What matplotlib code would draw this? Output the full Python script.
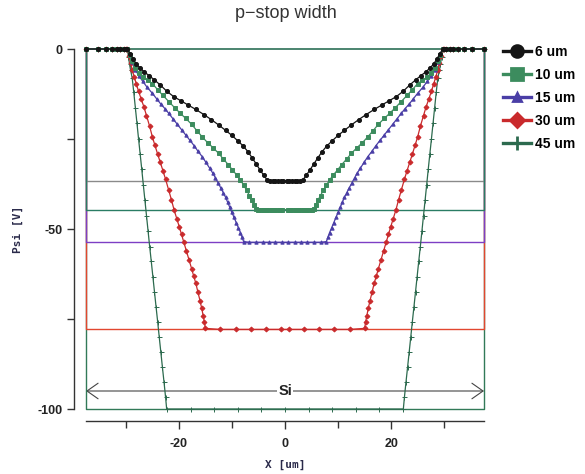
import matplotlib
matplotlib.use("Agg")
import matplotlib.pyplot as plt
from matplotlib.lines import Line2D

plt.rcParams["axes.unicode_minus"] = False
plt.rcParams["font.family"] = ["Liberation Sans", "DejaVu Sans"]

# outer mesh points on the flat Psi = 0 part (left side, shared by all runs)
edge_x = [-37.5, -35.3, -33.7, -32.6, -31.7, -31.0, -30.4, -30.0]
edge_y = [0, 0, 0, 0, 0, 0, 0, 0]

# left half of each cutline, x [um] and Psi [V]; structure is symmetric about x = 0
x_6 = [-29.7, -29.2, -28.6, -28.0, -27.3, -26.5, -25.6, -24.6, -23.5, -22.3, -21.0,
       -19.6, -18.2, -16.8, -15.3, -13.9, -12.5, -11.2, -10.0, -8.9, -7.9, -7.0,
       -6.2, -5.4, -4.7, -4.0, -3.3, -2.8, -2.3, -1.8, -1.3, -0.8, -0.3]
psi_6 = [0, -1.3, -2.8, -4.2, -5.3, -6.4, -7.4, -8.6, -10.0, -11.7, -13.2,
         -14.4, -15.6, -16.8, -18.2, -19.6, -21.1, -22.6, -24.0, -25.5, -26.9, -28.5,
         -30.2, -32.0, -33.6, -35.1, -36.5, -36.7, -36.7, -36.7, -36.7, -36.7, -36.7]

x_10 = [-29.7, -29.3, -28.8, -28.2, -27.5, -26.7, -25.9, -25.0, -24.0, -23.0, -21.9,
        -20.8, -19.7, -18.7, -17.6, -16.6, -15.6, -14.6, -13.5, -12.5, -11.6, -10.7,
        -9.9, -9.1, -8.4, -7.8, -7.2, -6.7, -6.2, -5.8, -5.5, -5.0, -4.5, -4.0, -3.5,
        -3.0, -2.5, -2.0, -1.5, -1.0, -0.5]
psi_10 = [0, -1.8, -3.4, -5.2, -6.8, -7.9, -8.7, -9.6, -11.3, -12.9, -14.6,
          -16.3, -17.9, -19.3, -20.9, -22.7, -24.4, -26.0, -27.5, -29.0, -30.6, -32.1,
          -33.6, -35.0, -36.4, -37.8, -39.3, -40.7, -42.0, -43.3, -44.5, -44.6, -44.6,
          -44.6, -44.6, -44.6, -44.6, -44.6, -44.6, -44.6, -44.6]

x_15 = [-29.7, -29.3, -28.8, -28.2, -27.5, -26.8, -26.0, -25.0, -24.2, -23.4, -22.6,
        -21.9, -21.1, -20.3, -19.5, -18.7, -17.9, -17.1, -16.4, -15.6, -14.9, -14.2,
        -13.6, -13.1, -12.6, -12.1, -11.6, -11.2, -10.8, -10.4, -10.0, -9.6, -9.2,
        -8.8, -8.4, -8.1, -7.8, -6.7, -5.5, -4.2, -3.0, -1.8, -0.6]
psi_15 = [0, -1.7, -3.6, -5.8, -7.5, -9.0, -10.6, -12.3, -13.8, -15.3, -16.6,
          -17.9, -19.4, -20.9, -22.4, -23.9, -25.4, -26.9, -28.4, -29.9, -31.5, -33.1,
          -34.5, -35.8, -37.2, -38.6, -40.0, -41.2, -42.6, -44.0, -45.4, -46.8, -48.2,
          -49.6, -51.0, -52.2, -53.5, -53.7, -53.7, -53.7, -53.7, -53.7, -53.7]

x_30 = [-29.7, -29.4, -29.1, -28.8, -28.4, -28.0, -27.6, -27.1, -26.6, -26.1, -25.5,
        -25.0, -24.5, -24.0, -23.5, -23.0, -22.5, -21.9, -21.4, -20.9, -20.4, -19.9,
        -19.5, -19.1, -18.6, -18.1, -17.6, -17.2, -16.8, -16.4, -16.0, -15.7, -15.4,
        -15.2, -15.0, -12.2, -9.3, -6.5, -3.6, -0.8]
psi_30 = [0, -1.9, -3.9, -5.8, -7.8, -9.8, -11.7, -13.9, -16.0, -18.5, -21.5,
          -24.4, -26.8, -29.2, -31.5, -33.8, -36.2, -39.3, -41.9, -44.7, -47.1, -49.5,
          -51.5, -53.5, -56.0, -58.5, -61.0, -63.1, -65.1, -67.6, -70.0, -72.0, -74.2,
          -75.8, -77.6, -77.9, -77.9, -77.9, -77.9, -77.9]

x_45 = [-29.7, -29.5, -29.3, -29.1, -28.8, -28.5, -28.2, -27.9, -27.6, -27.3, -27.0,
        -26.7, -26.4, -26.1, -25.8, -25.5, -25.2, -24.9, -24.6, -24.3, -24.0, -23.7,
        -23.4, -23.1, -22.8, -22.5, -22.3, -17.7, -13.4, -8.9, -4.5, 0.0]
psi_45 = [0, -2.2, -4.2, -5.9, -8.0, -12.0, -16.3, -20.6, -24.9, -29.1, -33.3,
          -37.7, -42.0, -46.3, -50.6, -54.9, -59.0, -63.2, -67.4, -71.6, -75.7, -80.0,
          -84.2, -88.4, -92.5, -96.8, -100.0, -100.0, -100.0, -100.0, -100.0, -100.0]

labels = ["6 um", "10 um", "15 um", "30 um", "45 um"]
halves = [(x_6, psi_6), (x_10, psi_10), (x_15, psi_15), (x_30, psi_30), (x_45, psi_45)]


def full_line(xl, yl):
    # add the flat outer mesh, then mirror to the right side
    xs = edge_x + xl
    ys = edge_y + yl
    xr = [-v for v in reversed(xs) if v != 0]
    yr = [p for v, p in zip(reversed(xs), reversed(ys)) if v != 0]
    return xs + xr, ys + yr


curves = [full_line(xl, yl) for xl, yl in halves]

line_colors = ["#151515", "#3c8c5e", "#4a3ea6", "#c92a2c", "#2c6a4e"]
box_colors = ["#8a8a8a", "#2a7c64", "#7d3fc4", "#e2472f", "#327a58"]
markers = ["o", "s", "^", "D", "+"]
msizes = [2.9, 2.7, 2.4, 2.5, 3.6]

fig = plt.figure(figsize=(5.85, 4.74), dpi=100)
ax = fig.add_axes([86 / 585, 1 - 409 / 474, 398 / 585, 360 / 474])

x_lo, x_hi = edge_x[0], -edge_x[0]

# bounding box of every run: sides and bottom at its minimum Psi
for i in [4, 3, 2, 0, 1]:
    xs, ys = curves[i]
    lo = min(ys)
    ax.plot([max(xs), max(xs), min(xs), min(xs)], [0, lo, lo, 0],
            color=box_colors[i], lw=1.0, clip_on=False, zorder=2)
ax.plot([x_lo, x_hi], [0, 0], color="#2c6f56", lw=1.2, clip_on=False, zorder=2)

for i in [4, 3, 2, 1, 0]:
    xs, ys = curves[i]
    ax.plot(xs, ys, color=line_colors[i], lw=0.9, marker=markers[i],
            markersize=msizes[i], markeredgewidth=0.7, clip_on=False, zorder=3)

# silicon region marker
ax.annotate("", xy=(x_hi, -95), xytext=(x_lo, -95),
            arrowprops=dict(arrowstyle="<->,head_length=0.4,head_width=0.28",
                            color="#444444", lw=0.8, mutation_scale=20,
                            shrinkA=0, shrinkB=0), zorder=1)
ax.text(0, -95, "Si", ha="center", va="center", fontsize=10.5, fontweight="bold",
        color="#222222", bbox=dict(facecolor="white", edgecolor="none", pad=1.0), zorder=1)

ax.set_xlim(x_lo, x_hi)
ax.set_ylim(-100, 0)
for side in ["top", "right"]:
    ax.spines[side].set_visible(False)
ax.spines["left"].set_position(("outward", 8.6))
ax.spines["bottom"].set_position(("outward", 8.6))
ax.spines["left"].set_bounds(-100, 0)
for side in ["left", "bottom"]:
    ax.spines[side].set_color("#333333")
    ax.spines[side].set_linewidth(1.0)

ax.set_xticks([-20, 0, 20])
ax.set_xticks([-30, -10, 10, 30], minor=True)
ax.set_yticks([-100, -50, 0])
ax.set_yticks([-75, -25], minor=True)
ax.tick_params(which="both", direction="out", color="#333333", width=1.0)
ax.tick_params(axis="x", which="major", length=6, pad=6)
ax.tick_params(axis="x", which="minor", length=5)
ax.tick_params(axis="y", which="both", length=5, pad=3)
for lab in ax.get_xticklabels() + ax.get_yticklabels():
    lab.set_fontsize(9)
    lab.set_fontweight("bold")
    lab.set_color("#222222")

ax.set_xlabel("X [um]", family="DejaVu Sans Mono", fontweight="bold", fontsize=8,
              color="#2a2a4a", va="center")
ax.set_ylabel("Psi [V]", family="DejaVu Sans Mono", fontweight="bold", fontsize=8,
              color="#2a2a4a", va="center", ha="center")
ax.xaxis.set_label_coords(0.5, -(465 - 409) / 360)
ax.yaxis.set_label_coords(-(86 - 18) / 398, 0.5)

fig.text(0.489, 1 - 14 / 474, "p\u2212stop width", ha="center", va="center",
         fontsize=13, color="#333333")

handles = [Line2D([], [], color=line_colors[i], lw=2.4, marker=markers[i],
                  markersize=[8.5, 8.0, 6.0, 7.0, 9.5][i], markeredgewidth=2.0)
           for i in range(5)]
fig.legend(handles, labels, loc="upper left", bbox_to_anchor=(503 / 585, 1 - 45 / 474),
           frameon=False, handlelength=2.0, handletextpad=0.3, labelspacing=0.64,
           borderpad=0, borderaxespad=0,
           prop=dict(family="Liberation Sans", weight="bold", size=10))

fig.savefig("out.png", dpi=100)
